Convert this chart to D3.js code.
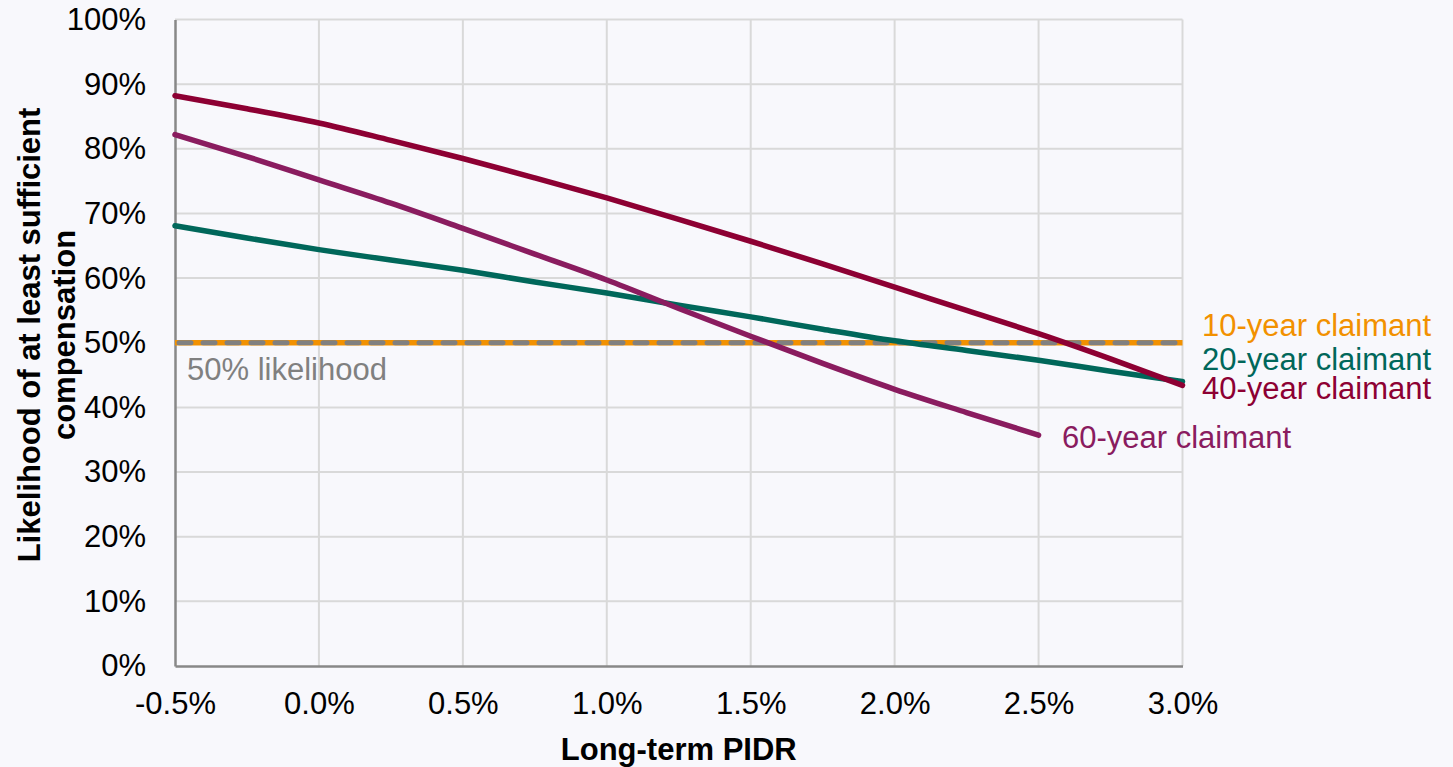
<!DOCTYPE html>
<html>
<head>
<meta charset="utf-8">
<script src="https://cdn.jsdelivr.net/npm/d3@7"></script>
<style>
  html, body { margin: 0; padding: 0; background: #F8F8FC; }
  svg { display: block; font-family: "Liberation Sans", Arial, sans-serif; }
</style>
</head>
<body>
<svg id="chart" width="1453" height="767"></svg>
<script>
// Long-term PIDR (%) sampled every 0.25 percentage points
const pidr = [-0.5, -0.25, 0, 0.25, 0.5, 0.75, 1.0, 1.25, 1.5, 1.75, 2.0, 2.25, 2.5, 2.75, 3.0];

// Likelihood of at least sufficient compensation (%) per claimant duration
const claimant10 = [50, 50, 50, 50, 50, 50, 50, 50, 50, 50, 50, 50, 50, 50, 50];
const claimant20 = [68.1, 66.2, 64.4, 62.8, 61.2, 59.4, 57.7, 55.8, 54.0, 52.1, 50.3, 48.8, 47.3, 45.6, 44.0];
const claimant40 = [88.2, 86.2, 84.0, 81.3, 78.5, 75.5, 72.4, 69.1, 65.7, 62.2, 58.6, 55.0, 51.4, 47.5, 43.4];
const claimant60 = [82.2, 78.8, 75.2, 71.6, 67.7, 63.7, 59.7, 55.3, 51.0, 46.8, 42.8, 39.2, 35.7];

const seriesNames = ["10-year claimant", "20-year claimant", "40-year claimant", "60-year claimant"];
const seriesColors = ["#F29100", "#00675A", "#8D0033", "#8A1C5F"];

const xTicks = [-0.5, 0, 0.5, 1.0, 1.5, 2.0, 2.5, 3.0];
const yTicks = [0, 10, 20, 30, 40, 50, 60, 70, 80, 90, 100];
const thresholdValue = 50;
const thresholdLabel = "50% likelihood";

const svg = d3.select("#chart");
const plot = { left: 175, right: 1182.5, top: 19.5, bottom: 666 };

const x = d3.scaleLinear().domain([-0.5, 3.0]).range([plot.left, plot.right]);
const y = d3.scaleLinear().domain([0, 100]).range([plot.bottom, plot.top]);

const fontSize = 31;

// Grid
const grid = svg.append("g").attr("stroke", "#D9D9D9").attr("stroke-width", 2);
grid.selectAll("line.h").data(yTicks.filter(d => d > 0)).join("line")
  .attr("x1", plot.left).attr("x2", plot.right)
  .attr("y1", d => y(d)).attr("y2", d => y(d));
grid.selectAll("line.v").data(xTicks.filter(d => d > -0.5)).join("line")
  .attr("x1", d => x(d)).attr("x2", d => x(d))
  .attr("y1", plot.top).attr("y2", plot.bottom);

// Axes (plain hyphen for negative values)
const xAxis = d3.axisBottom(x).tickValues(xTicks).tickSize(0).tickPadding(26)
  .tickFormat(d => d.toFixed(1) + "%");
const yAxis = d3.axisLeft(y).tickValues(yTicks).tickSize(0).tickPadding(29)
  .tickFormat(d => d + "%");

const gx = svg.append("g").attr("transform", `translate(0,${plot.bottom})`).call(xAxis);
const gy = svg.append("g").attr("transform", `translate(${plot.left},0)`).call(yAxis);
[gx, gy].forEach(g => {
  g.select(".domain").attr("stroke", "#888888").attr("stroke-width", 2.5);
  g.selectAll("text").attr("font-size", fontSize).attr("fill", "#000")
    .attr("font-family", "Liberation Sans, Arial, sans-serif");
});

// Series lines
const line = d3.line()
  .x((d, i) => x(pidr[i]))
  .y(d => y(d))
  .curve(d3.curveMonotoneX);

const seriesData = [claimant10, claimant20, claimant40, claimant60];

// 10-year claimant (flat) underneath the threshold line
svg.append("path").attr("d", line(claimant10))
  .attr("fill", "none")
  .attr("stroke", seriesColors[0]).attr("stroke-width", 5.5).attr("stroke-linecap", "butt");

// Dashed 50% threshold line
svg.append("line")
  .attr("x1", x(-0.5) + 4).attr("x2", x(3.0) - 4)
  .attr("y1", y(thresholdValue)).attr("y2", y(thresholdValue))
  .attr("stroke", "#808080").attr("stroke-width", 5)
  .attr("stroke-dasharray", "12,12").attr("stroke-linecap", "round");

[1, 3, 2].forEach(i => {
  svg.append("path").attr("d", line(seriesData[i]))
    .attr("fill", "none")
    .attr("stroke", seriesColors[i]).attr("stroke-width", 5.5)
    .attr("stroke-linecap", "round").attr("stroke-linejoin", "round");
});

// Threshold label
svg.append("text").attr("x", x(-0.5) + 12).attr("y", y(thresholdValue) + 37)
  .attr("font-size", fontSize).attr("fill", "#808080").text(thresholdLabel);

// Series labels
const labelPos = [
  { x: 1202, y: 336 },
  { x: 1202, y: 370 },
  { x: 1202, y: 399 },
  { x: 1062, y: 448 }
];
seriesNames.forEach((name, i) => {
  svg.append("text").attr("x", labelPos[i].x).attr("y", labelPos[i].y)
    .attr("font-size", fontSize).attr("fill", seriesColors[i]).text(name);
});

// Axis titles
svg.append("text").attr("x", (plot.left + plot.right) / 2).attr("y", 760)
  .attr("text-anchor", "middle").attr("font-size", fontSize).attr("font-weight", "bold")
  .text("Long-term PIDR");

const yTitle = svg.append("text")
  .attr("transform", "translate(0,335) rotate(-90)")
  .attr("text-anchor", "middle").attr("font-size", fontSize).attr("font-weight", "bold");
yTitle.append("tspan").attr("x", 0).attr("y", 40).text("Likelihood of at least sufficient");
yTitle.append("tspan").attr("x", 0).attr("y", 75).text("compensation");
</script>
</body>
</html>
